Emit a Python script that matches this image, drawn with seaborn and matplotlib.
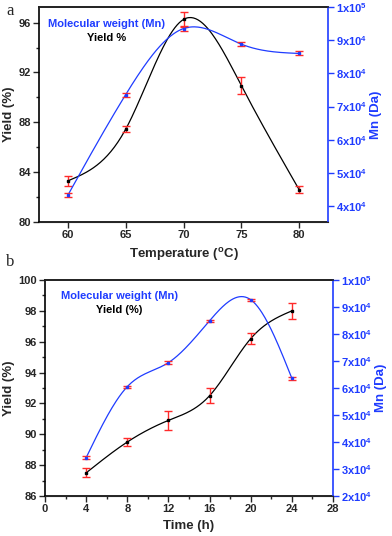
import numpy as np
import pandas as pd
import matplotlib
matplotlib.use("Agg")
import matplotlib.pyplot as plt
from matplotlib.ticker import MultipleLocator, FuncFormatter
import seaborn as sns

# ---- data ----
temp = [60, 65, 70, 75, 80]
yield_a = [83.3, 87.45, 96.25, 90.95, 82.6]
yield_a_err = [0.4, 0.25, 0.6, 0.7, 0.3]
mn_a = [4.33e4, 7.36e4, 9.35e4, 8.88e4, 8.6e4]
mn_a_err = [0.07e4, 0.06e4, 0.07e4, 0.06e4, 0.06e4]

time_h = [4, 8, 12, 16, 20, 24]
yield_b = [87.5, 89.5, 90.9, 92.5, 96.2, 98.0]
yield_b_err = [0.29, 0.28, 0.62, 0.49, 0.35, 0.5]
mn_b = [3.42e4, 6.05e4, 6.94e4, 8.49e4, 9.27e4, 6.36e4]
mn_b_err = [0.06e4, 0.04e4, 0.05e4, 0.04e4, 0.04e4, 0.05e4]

sns.set_style("ticks")
plt.rcParams["font.family"] = ["Liberation Sans", "DejaVu Sans"]
plt.rcParams["font.weight"] = "bold"
plt.rcParams["mathtext.fontset"] = "custom"
plt.rcParams["mathtext.rm"] = "Liberation Sans:bold"
plt.rcParams["mathtext.it"] = "Liberation Sans:bold"
plt.rcParams["mathtext.bf"] = "Liberation Sans:bold"

BLUE = "#1f3cff"
RED = "#ff2a2a"


def natural_spline(x, y, n=200):
    x = np.asarray(x, float); y = np.asarray(y, float)
    k = len(x); h = np.diff(x)
    A = np.zeros((k, k)); b = np.zeros(k)
    A[0, 0] = 1; A[-1, -1] = 1
    for i in range(1, k - 1):
        A[i, i - 1] = h[i - 1]; A[i, i] = 2 * (h[i - 1] + h[i]); A[i, i + 1] = h[i]
        b[i] = 3 * ((y[i + 1] - y[i]) / h[i] - (y[i] - y[i - 1]) / h[i - 1])
    c = np.linalg.solve(A, b)
    xs = np.linspace(x[0], x[-1], n)
    idx = np.clip(np.searchsorted(x, xs) - 1, 0, k - 2)
    dx = xs - x[idx]
    bb = (y[1:] - y[:-1]) / h - h * (2 * c[:-1] + c[1:]) / 3
    dd = (c[1:] - c[:-1]) / (3 * h)
    ys = y[idx] + bb[idx] * dx + c[idx] * dx ** 2 + dd[idx] * dx ** 3
    return xs, ys


def sci_fmt(v, pos):
    e = int(np.floor(np.log10(v)))
    m = int(round(v / 10 ** e))
    return r"$%dx10^{%d}$" % (m, e)


fig = plt.figure(figsize=(3.92, 5.36), dpi=100)


def panel(rect, x, y, yerr, mn, mnerr, xlim, ylim, y2lim, ymaj, ymin, xmaj, xmin,
          xlabel, ylabel_leg, letter, letter_xy, leg_x, leg_y):
    ax = fig.add_axes(rect)
    ax2 = ax.twinx()
    sx, sy = natural_spline(x, y)
    sns.lineplot(x=sx, y=sy, ax=ax, color="black", lw=0.9, sort=False)
    ax.errorbar(x, y, yerr=yerr, fmt="s", ms=2, color="black", ecolor=RED,
                elinewidth=1.0, capsize=3, capthick=1.0, zorder=5)
    mx, my = natural_spline(x, mn)
    sns.lineplot(x=mx, y=my, ax=ax2, color=BLUE, lw=0.9, sort=False)
    ax2.errorbar(x, mn, yerr=mnerr, fmt="s", ms=2, color=BLUE, ecolor=RED,
                 elinewidth=1.0, capsize=3, capthick=1.0, zorder=5)
    ax.set_xlim(*xlim); ax.set_ylim(*ylim); ax2.set_ylim(*y2lim)
    ax.yaxis.set_major_locator(MultipleLocator(ymaj))
    ax.yaxis.set_minor_locator(MultipleLocator(ymin))
    ax.xaxis.set_major_locator(MultipleLocator(xmaj))
    if xmin:
        ax.xaxis.set_minor_locator(MultipleLocator(xmin))
    ax2.yaxis.set_major_locator(MultipleLocator(1e4))
    ax2.yaxis.set_major_formatter(FuncFormatter(sci_fmt))
    ax.tick_params(axis="both", which="major", length=4, width=1, labelsize=8,
                   direction="out", pad=2)
    ax.tick_params(axis="both", which="minor", length=2, width=1, direction="out")
    ax2.tick_params(axis="y", which="major", length=4, width=1, labelsize=8,
                    colors=BLUE, direction="out", pad=2)
    for s in ["left", "bottom", "top"]:
        ax.spines[s].set_linewidth(1.2)
        ax.spines[s].set_color("black")
    ax.spines["right"].set_visible(False)
    ax2.spines["right"].set_color(BLUE)
    ax2.spines["right"].set_linewidth(1.2)
    ax2.spines["top"].set_linewidth(1.2)
    ax2.spines["left"].set_visible(False)
    ax.set_xlabel(xlabel, fontsize=9.5, fontweight="bold")
    ax.set_ylabel("Yield (%)", fontsize=9.5, fontweight="bold", labelpad=2)
    ax2.set_ylabel("Mn (Da)", fontsize=9.5, fontweight="bold", color=BLUE, labelpad=2)
    ax.text(leg_x, leg_y, "Molecular weight (Mn)", transform=ax.transAxes, color=BLUE,
            fontsize=8, fontweight="bold", ha="center", va="center")
    ax.text(leg_x, leg_y - 0.066, ylabel_leg, transform=ax.transAxes, color="black",
            fontsize=8, fontweight="bold", ha="center", va="center")
    fig.text(letter_xy[0], letter_xy[1], letter, family="Liberation Serif",
             fontsize=12, fontweight="normal", ha="center", va="center")
    return ax, ax2


panel([39 / 392, 1 - 222 / 536, 289 / 392, 215 / 536], temp, yield_a, yield_a_err,
      mn_a, mn_a_err, (57.5, 82.5), (80, 97.25), (3.52e4, 1e5), 4, 2, 5, None,
      "Temperature ($^{o}$C)", "Yield %", "a", (10 / 392, 1 - 11 / 536), 0.235, 0.92)

panel([45 / 392, 1 - 496 / 536, 288 / 392, 216 / 536], time_h, yield_b, yield_b_err,
      mn_b, mn_b_err, (0, 28), (86, 100), (2e4, 1e5), 2, 1, 4, 2,
      "Time (h)", "Yield (%)", "b", (10 / 392, 1 - 262 / 536), 0.257, 0.927)

fig.savefig("out.png", dpi=100)
